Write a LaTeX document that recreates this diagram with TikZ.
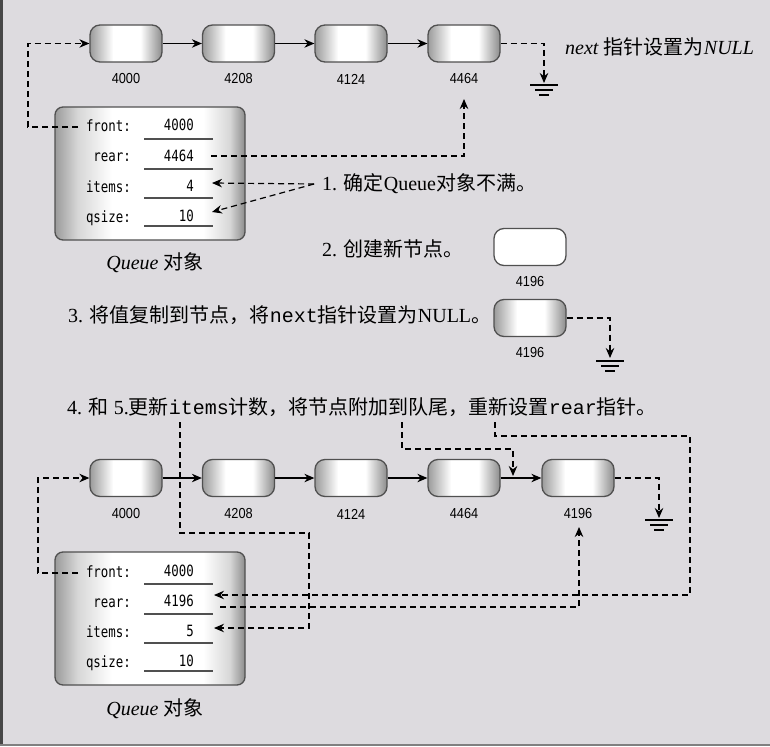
\documentclass[tikz,border=0pt]{standalone}
\usepackage{fontspec}
\setmainfont{Liberation Serif}
\newfontfamily\cjk{Noto Sans CJK SC}
\newfontfamily\numf{Liberation Sans}[FakeStretch=0.88]
\newfontfamily\boxf{DejaVu Sans Mono}[FakeStretch=0.8]
\newfontfamily\codef{Liberation Mono}
\usetikzlibrary{arrows.meta}
\definecolor{bg}{RGB}{221,219,223}
\definecolor{edge}{RGB}{80,80,80}
\definecolor{shdl}{RGB}{155,155,155}
\definecolor{shdr}{RGB}{140,140,140}
\definecolor{shdm}{RGB}{215,215,215}
\pgfdeclarehorizontalshading{nshade}{100bp}{color(0bp)=(shdl); color(25bp)=(shdl); color(41bp)=(white); color(60bp)=(white); color(75bp)=(shdr); color(100bp)=(shdr)}
\pgfdeclarehorizontalshading{qshade}{100bp}{color(0bp)=(shdl); color(25bp)=(shdl); color(31bp)=(shdm); color(40bp)=(white); color(64bp)=(white); color(71bp)=(shdm); color(75bp)=(shdr); color(100bp)=(shdr)}
\tikzset{
  lnode/.style={rectangle, rounded corners=10pt, minimum width=72pt, minimum height=37pt,
    draw=edge, line width=1.3pt, shading=nshade, inner sep=0pt},
  wnode/.style={rectangle, rounded corners=10pt, minimum width=72pt, minimum height=37pt,
    draw=edge, line width=1.3pt, fill=white, inner sep=0pt},
  numlbl/.style={font=\numf\fontsize{14.5}{14}\selectfont, inner sep=0pt},
  qbox/.style={rectangle, rounded corners=8pt, draw=edge, line width=1.3pt,
    shading=qshade, minimum width=190pt, minimum height=133pt},
  flab/.style={font=\boxf\fontsize{15.5}{15}\selectfont, anchor=base east, inner sep=0pt},
  uline/.style={draw=edge, line width=1.2pt},
  link/.style={line width=1.2pt, -{Stealth[length=10pt,width=8.5pt]}},
  dlink/.style={link, dash pattern=on 6pt off 4pt},
  stepf/.style={font=\fontsize{20}{22}\selectfont, anchor=base west, inner sep=0pt},
  capf/.style={font=\fontsize{20}{22}\selectfont, anchor=base, inner sep=0pt},
  gndsym/.pic={\draw[line width=1.2pt] (-14,0)--(14,0) (-9,5)--(9,5) (-5,10)--(5,10);}
}
\begin{document}
\begin{tikzpicture}[x=1pt,y=-1pt]
\useasboundingbox (0,0) rectangle (770,746);
\fill[bg] (0,0) rectangle (770,746);
\fill[black!72] (0,0) rectangle (3,746);
\draw[gray, line width=1.5pt] (0,744.8) -- (770,744.8);

% ---------- top row ----------
\node[lnode] (t1) at (126,43.5) {};
\node[lnode] (t2) at (238.5,43.5) {};
\node[lnode] (t3) at (351,43.5) {};
\node[lnode] (t4) at (464,43.5) {};
\node[numlbl] (t1l) at (126,79) {4000};
\node[numlbl] (t2l) at (238.5,79) {4208};
\node[numlbl] (t3l) at (351,79) {4124};
\node[numlbl] (t4l) at (464,79) {4464};
\draw[link] (t1) -- (t2);
\draw[link] (t2) -- (t3);
\draw[link] (t3) -- (t4);
\coordinate (g1a) at (544,83);
\draw[dlink] (t4.east) -| (g1a);
\pic at (544,85) {gndsym};
\node[stepf] (nxt) at (565,55) {\textit{next} {\cjk 指针设置为}\textit{NULL}};

% ---------- queue 1 ----------
\node[qbox] (q1) at (150,173.5) {};
\node[flab] (q1f) at (131,132) {front:};
\node[flab] (q1r) at (131,162) {rear:};
\node[flab] (q1i) at (131,192) {items:};
\node[flab] (q1q) at (131,222) {qsize:};
\node[flab] (q1fv) at (194,131) {4000};
\node[flab] (q1rv) at (194,161) {4464};
\node[flab] (q1iv) at (194,191) {4};
\node[flab] (q1qv) at (194,221) {10};
\draw[uline] (144,139) -- (213,139);
\draw[uline] (144,169) -- (213,169);
\draw[uline] (144,198) -- (213,198);
\draw[uline] (144,226) -- (213,226);
\node[capf] (q1cap) at (155,269) {\textit{Queue} {\cjk 对象}};

\coordinate (q1fa) at (78,127);
\draw[dlink] (q1fa) -- ++(-50,0) |- (t1.west);
\coordinate (q1ra) at (211,156);
\coordinate (t4lb) at (464,99);
\draw[dlink] (q1ra) -| (t4lb);

% ---------- steps 1-3 ----------
\node[stepf] (s1) at (322,190) {1. {\cjk 确定}Queue{\cjk 对象不满。}};
\coordinate (s1a) at (314,184);
\coordinate (q1ia) at (212,183);
\coordinate (q1qa) at (212,212);
\draw[dlink] (s1a) -- (q1ia);
\draw[dlink] (s1a) -- (q1qa);

\node[stepf] (s2) at (322,256) {2. {\cjk 创建新节点。}};
\node[wnode] (n2) at (530,247) {};
\node[numlbl] (n2l) at (530,282) {4196};

\node[stepf] (s3) at (68,322) {3. {\cjk 将值复制到节点，将}{\codef next}{\cjk 指针设置为}NULL{\cjk 。}};
\node[lnode] (n3) at (530,318) {};
\node[numlbl] (n3l) at (530,353) {4196};
\coordinate (g2a) at (610,358);
\draw[dlink] (n3.east) -| (g2a);
\pic at (610,361) {gndsym};

% ---------- step 4/5 ----------
\node[stepf] (s4) at (67,414) {4. {\cjk 和}\ 5.{\cjk 更新}{\codef items}{\cjk 计数，将节点附加到队尾，重新设置}{\codef rear}{\cjk 指针。}};

\node[lnode] (b1) at (126,478) {};
\node[lnode] (b2) at (238.5,478) {};
\node[lnode] (b3) at (351,478) {};
\node[lnode] (b4) at (464,478) {};
\node[lnode] (b5) at (578,478) {};
\node[numlbl] (b1l) at (126,514) {4000};
\node[numlbl] (b2l) at (238.5,514) {4208};
\node[numlbl] (b3l) at (351,514) {4124};
\node[numlbl] (b4l) at (464,514) {4464};
\node[numlbl] (b5l) at (578,514) {4196};
\draw[link] (b1) -- (b2);
\draw[link] (b2) -- (b3);
\draw[link] (b3) -- (b4);
\draw[link] (b4) -- (b5);
\coordinate (g3a) at (659,518);
\draw[dlink] (b5.east) -| (g3a);
\pic at (659,520) {gndsym};

% ---------- queue 2 ----------
\node[qbox] (q2) at (150,618.5) {};
\node[flab] (q2f) at (131,577) {front:};
\node[flab] (q2r) at (131,607) {rear:};
\node[flab] (q2i) at (131,637) {items:};
\node[flab] (q2q) at (131,667) {qsize:};
\node[flab] (q2fv) at (194,576) {4000};
\node[flab] (q2rv) at (194,606) {4196};
\node[flab] (q2iv) at (194,636) {5};
\node[flab] (q2qv) at (194,666) {10};
\draw[uline] (144,584) -- (213,584);
\draw[uline] (144,614) -- (213,614);
\draw[uline] (144,643) -- (213,643);
\draw[uline] (144,671) -- (213,671);
\node[capf] (q2cap) at (155,715) {\textit{Queue} {\cjk 对象}};

\coordinate (q2fa) at (78,573);
\draw[dlink] (q2fa) -- ++(-40,0) |- (b1.west);
\coordinate (q2ra) at (220,607);
\coordinate (b5lb) at (579,527);
\draw[dlink] (q2ra) -| (b5lb);

\coordinate (fu) at (402,422);
\coordinate (b45) at (513,476);
\draw[dlink] (fu) -- (402,449) -| (b45);

\coordinate (zh) at (495,422);
\coordinate (q2rin) at (214,595);
\draw[dlink] (zh) -- (495,436) -- (690,436) -- (690,595) -- (q2rin);

\coordinate (itm) at (180,422);
\coordinate (q2iin) at (214,628);
\draw[dlink] (itm) -- (180,533) -- (309,533) -- (309,628) -- (q2iin);
\end{tikzpicture}
\end{document}
